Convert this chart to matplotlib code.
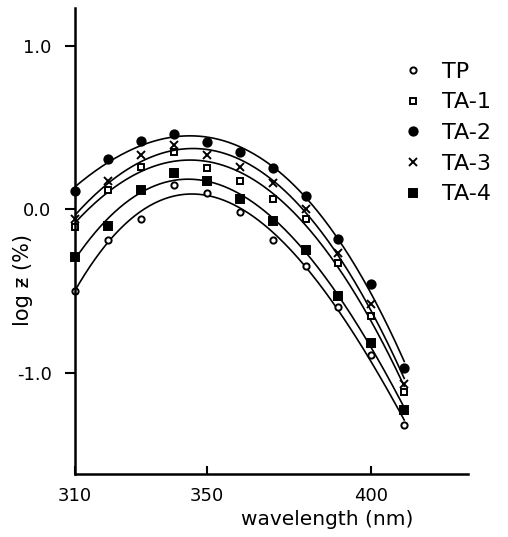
import numpy as np
import matplotlib
matplotlib.use("Agg")
import matplotlib.pyplot as plt

plt.rcParams['font.family'] = ['DejaVu Sans']

# wavelength (nm)
wavelength = [310, 320, 330, 340, 350, 360, 370, 380, 390, 400, 410]

# log values
tp  = [-0.50, -0.19, -0.06, 0.15, 0.10, -0.02, -0.19, -0.35, -0.60, -0.89, -1.32]
ta1 = [-0.11, 0.12, 0.26, 0.35, 0.25, 0.17, 0.06, -0.06, -0.33, -0.65, -1.12]
ta2 = [0.11, 0.31, 0.42, 0.46, 0.41, 0.35, 0.25, 0.08, -0.18, -0.46, -0.97]
ta3 = [-0.06, 0.17, 0.33, 0.39, 0.33, 0.26, 0.16, 0.00, -0.27, -0.58, -1.07]
ta4 = [-0.29, -0.10, 0.12, 0.22, 0.17, 0.06, -0.07, -0.25, -0.53, -0.82, -1.23]

names = ["TP", "TA-1", "TA-2", "TA-3", "TA-4"]
series = [tp, ta1, ta2, ta3, ta4]
markers = [("o", "white", 4.5), ("s", "white", 4.5), ("o", "black", 6), ("x", "black", 5.5), ("s", "black", 5.5)]

fig = plt.figure(figsize=(5.08, 5.37), dpi=100)
ax = fig.add_axes([0.148, 0.117, 0.774, 0.868])

xs = np.linspace(310, 410, 200)
for name, vals, (m, fc, ms) in zip(names, series, markers):
    # smooth fitted curve through the measured points
    coef = np.polyfit(wavelength, vals, 3)
    ax.plot(xs, np.polyval(coef, xs), color="black", lw=1.2)
    ax.plot(wavelength, vals, linestyle="none", marker=m, markersize=ms,
            markerfacecolor=fc, markeredgecolor="black", markeredgewidth=1.4,
            label=name, clip_on=False)

ax.set_xlim(310, 429.5)
ax.set_ylim(-1.62, 1.23)

for side in ["top", "right"]:
    ax.spines[side].set_visible(False)
ax.spines["left"].set_linewidth(1.8)
ax.spines["bottom"].set_linewidth(1.8)

ax.set_xticks([310, 350, 400])
ax.set_xticklabels(["310", "350", "400"], fontsize=13)
ax.tick_params(axis="x", direction="in", length=6, width=1.5, pad=9)
ax.set_yticks([1.0, 0.0, -1.0])
ax.set_yticklabels(["1.0", "0.0", "-1.0"], fontsize=13)
ax.tick_params(axis="y", direction="out", length=7, width=1.5, pad=10)

fig.text(0.645, 0.033, "wavelength (nm)", fontsize=14.5, ha="center", va="center")
fig.text(0.045, 0.478, "log ƶ (%)", fontsize=15, rotation=90, ha="center", va="center")

leg = ax.legend(loc="upper left", bbox_to_anchor=(0.795, 0.885), bbox_transform=fig.transFigure,
                frameon=False, fontsize=16, handlelength=0.8, handletextpad=0.9,
                labelspacing=0.48, borderpad=0, borderaxespad=0)

fig.savefig("out.png", dpi=100)
